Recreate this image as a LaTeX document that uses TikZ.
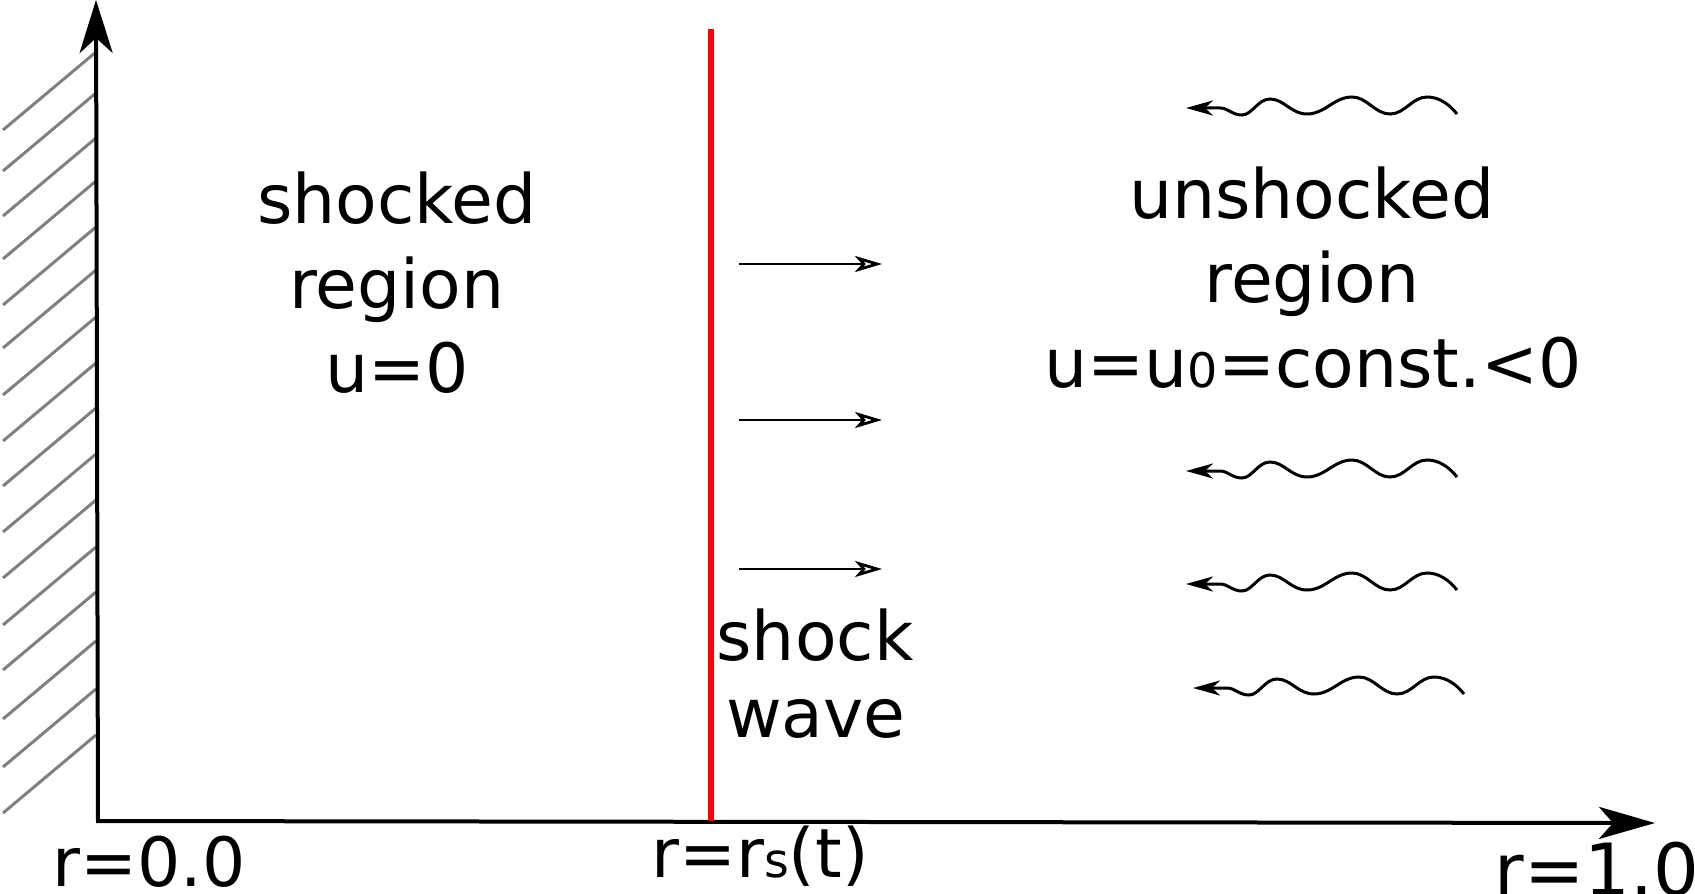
\documentclass[tikz,border=0pt]{standalone}
\usepackage{fontspec}
\setmainfont{DejaVu Sans}
\usetikzlibrary{arrows.meta}
\newcommand{\smallsub}[1]{{\fontsize{23.8}{26}\selectfont #1}}
\tikzset{
  lbl/.style={inner sep=0pt, anchor=base, font=\fontsize{34}{40}\selectfont},
  hatchline/.style={draw=black!50, line width=1.5pt},
  axisline/.style={draw=black, line width=2pt, line join=miter},
  shockline/.style={draw=red, line width=2.8pt},
  flowarrow/.style={draw=black, line width=1.4pt, -{Stealth[open, length=13.5pt, width=8pt, inset=3.5pt]}},
  wavyline/.style={draw=black, line width=1.5pt, -{Stealth[length=13.5pt, width=7.5pt, inset=4pt]}},
  wavyarrow/.pic={
    \draw[wavyline] (271,6) .. controls (263,-4) and (253,-11) .. (241,-11)
      .. controls (226,-11) and (219,6) .. (204,6)
      .. controls (189,6) and (181,-11) .. (166,-11)
      .. controls (148,-11) and (139,6) .. (121,6)
      .. controls (105,6) and (98,-9) .. (84,-9)
      .. controls (72,-9) and (66,7) .. (56,7)
      .. controls (46,7) and (42,0) .. (34,0) -- (0,0);
  }
}
\begin{document}
\begin{tikzpicture}[x=0.5pt, y=-0.5pt]
\useasboundingbox (0,0) rectangle (1695,893);
% wall hatching
\foreach \yy in {130,171,216,259,305,348,395,441,486,532,578,625,670,719,767,813}
  \draw[hatchline] (3,\yy) -- (96,{\yy-78});
% axes
\coordinate (O) at (98,821);
\coordinate (Ytop) at (96,0);
\coordinate (Xend) at (1655,823);
\draw[axisline, {Stealth[length=26.5pt, width=16.5pt, inset=7.5pt]}-{Stealth[length=28pt, width=16pt, inset=7pt]}] (Ytop) -- (O) -- (Xend);
% shock front
\coordinate (Stop) at (711,29);
\coordinate (Sbot) at (711,821);
\draw[shockline] (Stop) -- (Sbot);
% straight arrows
\foreach \yy [count=\i] in {264,420,569} {
  \coordinate (fa\i) at (739,\yy);
  \coordinate (fb\i) at (882,\yy);
  \draw[flowarrow] (fa\i) -- (fb\i);
}
% wavy arrows
\pic at (1186,108) {wavyarrow};
\pic at (1186,471) {wavyarrow};
\pic at (1186,584) {wavyarrow};
\pic at (1193,688) {wavyarrow};
% texts
\node[lbl] (s1) at (397,223) {shocked};
\node[lbl] (s2) at (397,308) {region};
\node[lbl] (s3) at (397,392) {u=0};
\node[lbl] (u1) at (1312,219) {unshocked};
\node[lbl] (u2) at (1312,302) {region};
\node[lbl] (u3) at (1313,387) {u=u\smallsub{0}=const.<0};
\node[lbl] (w1) at (815,660) {shock};
\node[lbl] (w2) at (816,737) {wave};
\node[lbl] (r0) at (149,886) {r=0.0};
\node[lbl] (rs) at (760,877) {r=r\smallsub{s}(t)};
\node[lbl, anchor=base west, font=\fontsize{36}{42}\selectfont] (r1) at (1494,895) {r=1.0};
\end{tikzpicture}
\end{document}
